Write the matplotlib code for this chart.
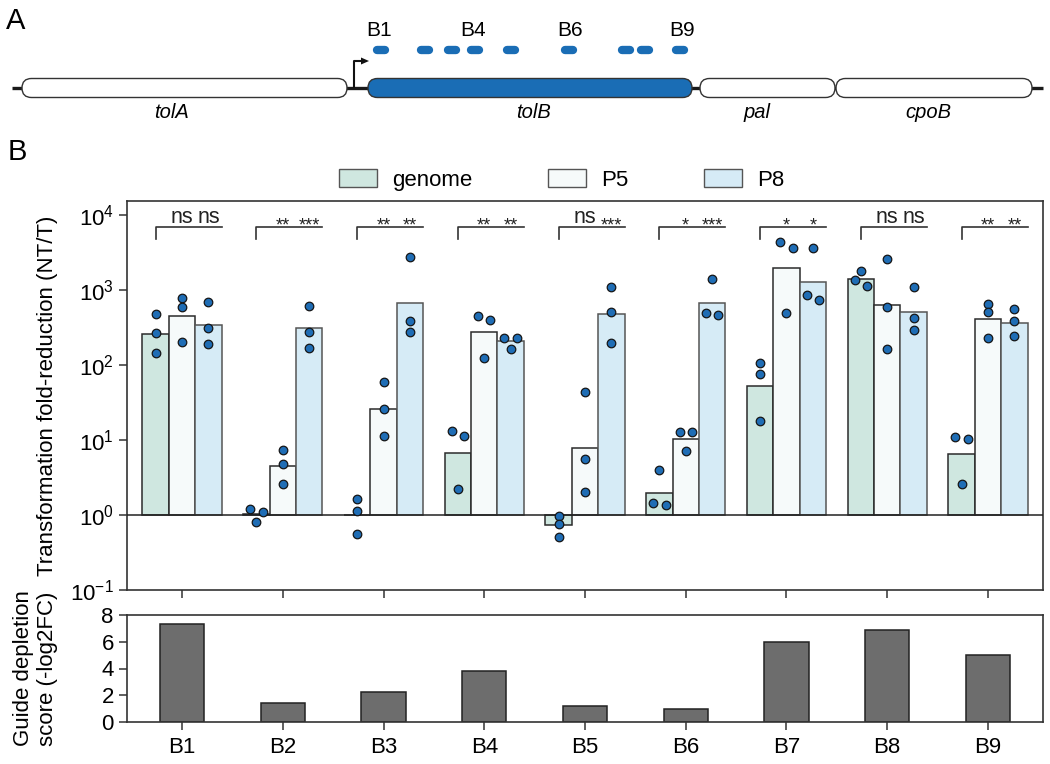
import numpy as np
import matplotlib
matplotlib.use('Agg')
import matplotlib.pyplot as plt
from matplotlib.patches import Patch, FancyBboxPatch, Polygon
from matplotlib.ticker import LogLocator, NullLocator, FixedLocator

plt.rcParams['font.family'] = ['Liberation Sans', 'DejaVu Sans']

# ---------------- data ----------------
guides = ['B1', 'B2', 'B3', 'B4', 'B5', 'B6', 'B7', 'B8', 'B9']
conditions = ['genome', 'P5', 'P8']

genome_bar = [259, 1.03, 1.0, 6.8, 0.736, 1.96, 52, 1387, 6.44]
p5_bar = [450, 4.55, 25.6, 278, 7.8, 10.4, 1946, 625, 415]
p8_bar = [341, 315, 664, 209, 474, 664, 1291, 509, 367]

genome_pts = [[474, 264, 144], [1.19, 1.10, 0.80], [1.62, 1.13, 0.55],
              [13.2, 11.3, 2.2], [0.98, 0.76, 0.51], [3.98, 1.46, 1.35],
              [105, 75, 18.1], [1774, 1373, 1120], [10.9, 10.2, 2.57]]
p5_pts = [[776, 600, 205], [7.36, 4.83, 2.61], [59.3, 25.9, 11.3],
          [450, 400, 123], [44, 5.58, 2.03], [12.9, 12.9, 7.06],
          [4325, 3594, 493], [2617, 593, 165], [657, 509, 226]]
p8_pts = [[686, 309, 189], [607, 278, 169], [2754, 391, 278],
          [231, 231, 166], [1107, 502, 195], [1387, 489, 464],
          [3594, 849, 728], [1096, 423, 290], [558, 390, 244]]

sig_p5 = ['ns', '**', '**', '**', 'ns', '*', '*', 'ns', '**']
sig_p8 = ['ns', '***', '**', '**', '***', '***', '*', 'ns', '**']

depletion = [7.3, 1.42, 2.25, 3.85, 1.17, 0.97, 5.97, 6.85, 5.0]

gene_names = ['tolA', 'tolB', 'pal', 'cpoB']
guide_labels_shown = ['B1', 'B4', 'B6', 'B9']

# ---------------- layout / style ----------------
W, H = 1050, 764
fill_cols = ['#cfe7e0', '#f6fafa', '#d6ebf6']
edge_cols = ['#2b2b2b', '#2b2b2b', '#555555']
dot_col = '#1f6db5'
gene_blue = '#1a6db5'
FS = 16

fig = plt.figure(figsize=(W / 100, H / 100), dpi=100)

# overlay axes in pixel coordinates for panel A and panel letters
ax0 = fig.add_axes([0, 0, 1, 1])
ax0.set_xlim(0, W)
ax0.set_ylim(H, 0)
ax0.axis('off')

ax = fig.add_axes([127 / W, (H - 590) / H, 916 / W, 389 / H])
ax2 = fig.add_axes([127 / W, (H - 722) / H, 916 / W, 107 / H])

# ---------- panel A ----------
ax0.text(16, 21, 'A', fontsize=21, ha='center', va='center')
ax0.text(17, 152, 'B', fontsize=21, ha='center', va='center')

ax0.plot([12, 1043], [88, 88], color='#1a1a1a', lw=2.4, zorder=1,
         solid_capstyle='butt')
gene_spans = [(22, 347), (368, 692), (700, 835), (836, 1032)]
gene_fc = ['white', gene_blue, 'white', 'white']
gene_label_x = [171, 533, 757, 928]
for (g0, g1), fc, name, lx in zip(gene_spans, gene_fc, gene_names, gene_label_x):
    ax0.add_patch(FancyBboxPatch((g0, 78.5), g1 - g0, 19,
                                 boxstyle='round,pad=0,rounding_size=9.5',
                                 fc=fc, ec='#333333', lw=1.0, zorder=2))
    ax0.text(lx, 113, name, fontsize=14.5, style='italic', ha='center', va='center')

# promoter arrow
ax0.plot([354, 354, 362], [87, 61, 61], color='#111111', lw=1.5, zorder=3)
ax0.add_patch(Polygon([[361, 57.5], [369, 61], [361, 64.5]], closed=True,
                      fc='#111111', ec='none', zorder=3))

guide_x = [381, 425, 452, 475, 511, 569, 626, 645, 680]
for gx in guide_x:
    ax0.plot([gx - 4, gx + 4], [50, 50], color=gene_blue, lw=6,
             solid_capstyle='round', zorder=3)
for lab, lx in zip(guide_labels_shown, [379, 473, 570, 682]):
    ax0.text(lx, 30, lab, fontsize=15, ha='center', va='center')

# ---------- panel B main ----------
x = np.arange(len(guides))
bw = 0.262
offsets = [-bw, 0.0, bw]
bars = [genome_bar, p5_bar, p8_bar]
pts = [genome_pts, p5_pts, p8_pts]

ax.set_yscale('log')
ax.set_ylim(0.1, 10 ** 4.187)
ax.set_xlim(-0.546, 8.546)

for vals, off, fc, ec in zip(bars, offsets, fill_cols, edge_cols):
    v = np.array(vals, dtype=float)
    ax.bar(x + off, v - 1.0, bottom=1.0, width=bw, color=fc,
           edgecolor=ec, linewidth=1.1, zorder=2)
ax.axhline(1.0, color='#222222', lw=1.1, zorder=3)

# swarm-like spreading of points (display space)
px_per_x = ax.bbox.width / (ax.get_xlim()[1] - ax.get_xlim()[0])
spread_px = 12.3
thresh_px = 8.0
for series, off in zip(pts, offsets):
    for i, vals in enumerate(series):
        v = np.array(vals, dtype=float)
        ydisp = ax.transData.transform(np.column_stack([np.zeros_like(v), v]))[:, 1]
        order = np.argsort(-ydisp)
        clusters = []
        for idx in order:
            if clusters and abs(ydisp[clusters[-1][-1]] - ydisp[idx]) < thresh_px:
                clusters[-1].append(idx)
            else:
                clusters.append([idx])
        xo = np.zeros(len(v))
        for cl in clusters:
            k = len(cl)
            for j, idx in enumerate(cl):
                xo[idx] = (j - (k - 1) / 2) * spread_px
        ax.scatter(i + off + xo / px_per_x, v, s=38, color=dot_col,
                   edgecolor='#151515', linewidth=0.9, zorder=4, clip_on=False)

# significance brackets
trans = ax.get_xaxis_transform()
for i in range(len(guides)):
    ax.plot([i - bw, i - bw, i + bw * 1.5], [0.9023, 0.9332, 0.9332],
            transform=trans, color='#333333', lw=1.2, clip_on=False, zorder=3)
    for lab, xx in ((sig_p5[i], i), (sig_p8[i], i + bw)):
        if lab == 'ns':
            ax.text(xx, 0.9434, lab, transform=trans, ha='center',
                    va='baseline', fontsize=15.5, color='#222222')
        else:
            ax.text(xx, 0.925, lab, transform=trans, ha='center',
                    va='baseline', fontsize=13, color='#222222')

ax.yaxis.set_major_locator(LogLocator(base=10, numticks=10))
ax.yaxis.set_minor_locator(NullLocator())
ax.xaxis.set_major_locator(FixedLocator(x))
ax.tick_params(axis='x', labelbottom=False, length=6, width=1.1,
               color='#333333', direction='out')
ax.tick_params(axis='y', labelsize=FS, length=5.5, width=1.1,
               color='#333333', direction='out', pad=4)
for s in ax.spines.values():
    s.set_color('#333333')
    s.set_linewidth(1.2)
ax.set_ylabel('Transformation fold-reduction (NT/T)', fontsize=FS)
ax.yaxis.set_label_coords(-0.0753, 0.5)

handles = [Patch(facecolor=c, edgecolor='#555555', linewidth=1.0) for c in fill_cols]
fig.legend(handles, conditions, loc='center', bbox_to_anchor=(562 / W, 1 - 180 / H),
           ncol=3, frameon=False, fontsize=FS, handlelength=1.71, handleheight=0.86,
           handletextpad=0.68, columnspacing=3.4)

# ---------- panel B bottom ----------
ax2.bar(x, depletion, width=0.44, color='#6d6d6d', edgecolor='#222222',
        linewidth=1.1, zorder=2)
ax2.set_xlim(-0.546, 8.546)
ax2.set_ylim(0, 8)
ax2.set_yticks([0, 2, 4, 6, 8])
ax2.set_xticks(x)
ax2.set_xticklabels(guides)
ax2.tick_params(axis='x', labelsize=FS, length=6, width=1.1,
                color='#333333', direction='out', pad=5)
ax2.tick_params(axis='y', labelsize=FS, length=5.5, width=1.1,
                color='#333333', direction='out', pad=4)
for s in ax2.spines.values():
    s.set_color('#333333')
    s.set_linewidth(1.2)
ax2.set_ylabel('Guide depletion\nscore (-log2FC)', fontsize=FS, linespacing=1.2)
ax2.yaxis.set_label_coords(-0.0753, 0.5)

fig.savefig('out.png', dpi=100)
